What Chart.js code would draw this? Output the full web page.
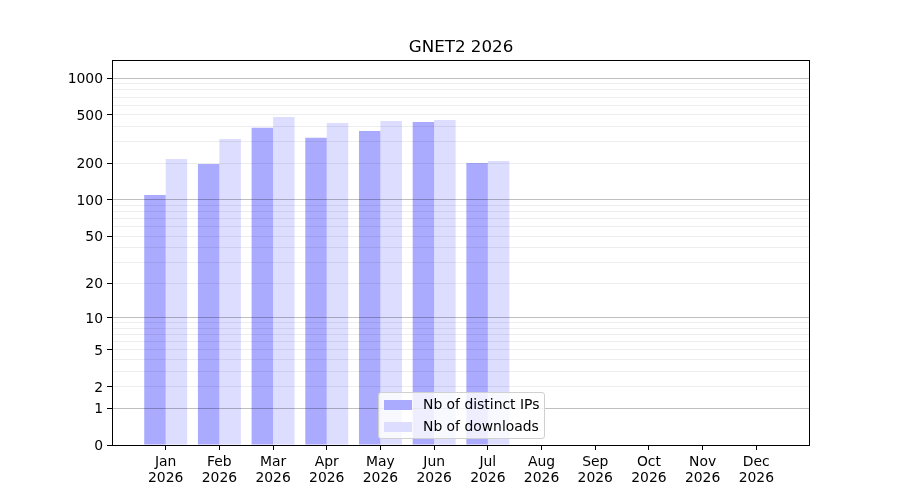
<!DOCTYPE html>
<html>
<head>
<meta charset="utf-8">
<script src="https://cdn.jsdelivr.net/npm/chart.js@4/dist/chart.umd.min.js"></script>
<style>
  body { margin: 0; background: #fff; }
  #wrap { position: relative; width: 900px; height: 500px; }
  #legend {
    position: absolute; left: 378px; top: 392px; width: 165px; height: 45px;
    background: rgba(255,255,255,0.8); border: 1px solid #d0d0d0; border-radius: 3px;
    font-family: 'DejaVu Sans', sans-serif; font-size: 13.9px; color: #000;
  }
  .item { position: absolute; left: 5px; height: 16px; line-height: 16px; white-space: nowrap; }
  .item span.box { display: inline-block; width: 28px; height: 10px; vertical-align: -1px; margin-right: 11px; }
</style>
</head>
<body>
<div id="wrap">
  <canvas id="Bars" width="900" height="500"></canvas>
  <div id="legend">
    <div class="item" style="top:3px"><span class="box" style="background:#aaaaff"></span>Nb of distinct IPs</div>
    <div class="item" style="top:25px"><span class="box" style="background:#ddddff"></span>Nb of downloads</div>
  </div>
</div>
<script>
const months = ["Jan", "Feb", "Mar", "Apr", "May", "Jun", "Jul", "Aug", "Sep", "Oct", "Nov", "Dec"]; // Eje X
const year = "2026";
const ips = [110, 198, 391, 324, 368, 437, 201];        // Nb of distinct IPs
const downloads = [217, 317, 481, 429, 445, 454, 209];  // Nb of downloads
const labeledTicks = [0, 1, 2, 5, 10, 20, 50, 100, 200, 500, 1000];
const majorTicks = [1, 10, 100, 1000];
const title = "GNET2 " + year;

// eje y en log10(v + 1)
const tr = v => Math.log10(v + 1);

function yTickValues() {
    const out = [0];
    for (let dec = 1; dec <= 1000; dec *= 10) {
        for (let k = 1; k <= 9; k++) {
            const v = k * dec;
            if (v > 1000) break;
            out.push(v);
        }
    }
    return out;
}

const frame = {
    id: 'frame',
    afterDraw(chart) {
        const a = chart.chartArea, ctx = chart.ctx;
        ctx.save();
        ctx.strokeStyle = '#000';
        ctx.lineWidth = 1;
        ctx.strokeRect(Math.round(a.left) + 0.5, Math.round(a.top) + 0.5,
            Math.round(a.right - a.left) - 1, Math.round(a.bottom - a.top));
        ctx.restore();
    }
};

Chart.defaults.font.family = "'DejaVu Sans', sans-serif";
Chart.defaults.font.size = 13.9;
Chart.defaults.color = '#000';

new Chart(document.querySelector("#Bars"), {
    type: 'bar',
    data: {
        datasets: [
            {
                label: "Nb of distinct IPs",
                data: ips.map((v, i) => ({ x: i, y: tr(v) })),
                backgroundColor: '#aaaaff'
            },
            {
                label: "Nb of downloads",
                data: downloads.map((v, i) => ({ x: i, y: tr(v) })),
                backgroundColor: '#ddddff'
            }
        ]
    },
    options: {
        responsive: false,
        animation: false,
        devicePixelRatio: 1,
        layout: { padding: { left: 0, right: 90, top: 0, bottom: 0 } },
        datasets: { bar: { categoryPercentage: 0.8, barPercentage: 1.0 } },
        plugins: {
            legend: { display: false },
            tooltip: { enabled: false },
            title: {
                display: true,
                fullSize: false,
                text: title,
                color: '#000',
                font: { size: 16.7, weight: 'normal' },
                padding: { top: 38, bottom: 2 }
            }
        },
        scales: {
            x: {
                type: 'linear',
                min: -1,
                max: 12,
                offset: false,
                afterBuildTicks: scale => {
                    scale.ticks = months.map((m, i) => ({ value: i }));
                },
                afterFit: scale => { scale.height = 55; },
                ticks: {
                    autoSkip: false,
                    maxRotation: 0,
                    padding: 4,
                    font: { lineHeight: 1.15 },
                    callback: (value) => [months[value], year]
                },
                grid: { offset: false, drawOnChartArea: false, drawTicks: true, tickLength: 5, tickColor: '#000' },
                border: { display: false }
            },
            y: {
                type: 'linear',
                min: 0,
                max: 3.148,
                afterBuildTicks: scale => {
                    scale.ticks = yTickValues().map(v => ({ value: tr(v), raw: v }));
                },
                afterFit: scale => { scale.width = 112; },
                ticks: {
                    autoSkip: false,
                    padding: 4,
                    labelOffset: 1.5,
                    callback: (value, index, ticks) => {
                        const raw = ticks[index].raw;
                        return labeledTicks.includes(raw) ? String(raw) : '';
                    }
                },
                grid: {
                    z: 1,
                    tickLength: 5,
                    color: ctx => {
                        const raw = ctx.tick ? ctx.tick.raw : null;
                        if (raw === 0) return 'rgba(0,0,0,0)';
                        return majorTicks.includes(raw) ? 'rgba(0,0,0,0.25)' : 'rgba(0,0,0,0.07)';
                    },
                    tickColor: ctx => {
                        const raw = ctx.tick ? ctx.tick.raw : null;
                        return labeledTicks.includes(raw) ? '#000' : 'rgba(0,0,0,0)';
                    }
                },
                border: { display: false }
            }
        }
    },
    plugins: [frame]
});
</script>
</body>
</html>
